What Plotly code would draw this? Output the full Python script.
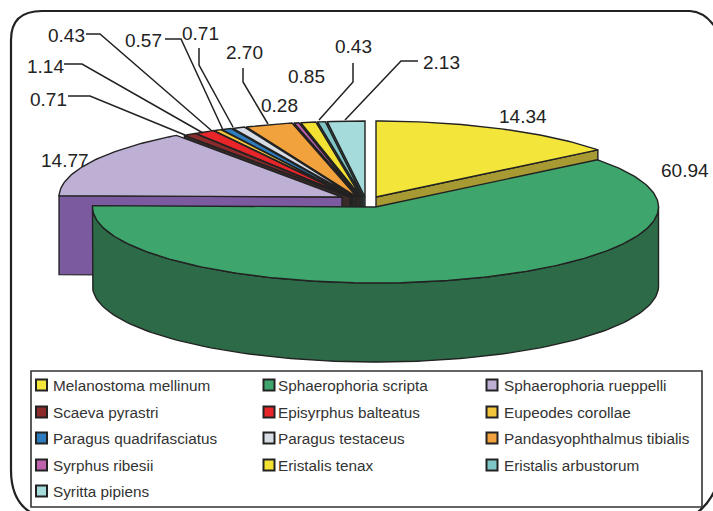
import numpy as np
import plotly.graph_objects as go

species = ["Melanostoma mellinum", "Sphaerophoria scripta", "Sphaerophoria rueppelli",
           "Scaeva pyrastri", "Episyrphus balteatus", "Eupeodes corollae",
           "Paragus quadrifasciatus", "Paragus testaceus", "Pandasyophthalmus tibialis",
           "Syrphus ribesii", "Eristalis tenax", "Eristalis arbustorum", "Syritta pipiens"]
values = [14.34, 60.94, 14.77, 0.71, 1.14, 0.43, 0.57, 0.71, 2.70, 0.28, 0.85, 0.43, 2.13]
top_colors = ["#F4E53A", "#3EA56C", "#BDB0D4", "#8C2B2B", "#E8262A", "#F2C53D", "#2C7CBE",
              "#D8DCE4", "#F2A23C", "#BE62AE", "#F3E234", "#7FC6C6", "#A6DBDB"]
face_colors = ["#A89A32", "#2D6A47", "#7B5AA0", "#3A2A2A", "#4A2626", "#4A3A22", "#2A3A4A",
               "#3A3A3A", "#3A2C20", "#4A3040", "#3A3620", "#2E4A4A", "#3F5F5F"]
centers_x = [376, 375.5, 342, 350, 351, 352, 353, 355, 357, 359, 361, 363, 365]
centers_y = [197, 207, 197, 197, 197, 197, 197, 197, 197, 197, 197, 197, 197]
label_x = [523, 685, 65, 48, 45, 66, 143, 200, 244, 279, 306, 353, 441]
label_y = [116, 170, 160, 99, 66, 35, 40, 33, 52, 105, 76, 46, 62]
label_index = [0, 1, 2, 3, 4, 5, 6, 7, 8, 9, 10, 11, 12]
leaders = [
    [(68, 96), (90, 96), (185, 135)],
    [(64, 64), (82, 64), (203, 133)],
    [(86, 34), (100, 34), (212, 131)],
    [(165, 39), (181, 39), (223, 130)],
    [(199, 48), (199, 65), (233, 127)],
    [(243, 68), (243, 82), (268, 124)],
    [(353, 63), (353, 82), (319, 120)],
    [(418, 61), (401, 61), (345, 120)],
]
legend_col_x = [41.5, 269, 492]
legend_text_x = [52, 277, 503]
legend_row_y = [385, 412, 438, 465, 491]

RX, RY, DEPTH = 283, 76, 79
OUT = "#222222"

cum = np.cumsum([0] + values) / sum(values) * 2 * np.pi
fig = go.Figure()


def poly(xs, ys, fill, name, lw=1.4):
    fig.add_trace(go.Scatter(x=list(xs), y=list(ys), mode="lines", fill="toself", fillcolor=fill,
                             line=dict(color=OUT, width=lw), name=name, hoverinfo="name",
                             showlegend=False))


def pt(cx, cy, a):
    return cx + RX * np.sin(a), cy - RY * np.cos(a)


def draw(i):
    a0, a1 = cum[i], cum[i + 1]
    cx, cy = centers_x[i], centers_y[i]
    n = max(4, int((a1 - a0) * 60))
    t = np.linspace(a0, a1, n)
    ax, ay = pt(cx, cy, t)
    lo, hi = max(a0, np.pi / 2), min(a1, 3 * np.pi / 2)
    if hi > lo:
        s = np.linspace(lo, hi, 120)
        sx, sy = pt(cx, cy, s)
        poly(np.r_[sx, sx[::-1], sx[0]], np.r_[sy, sy[::-1] + DEPTH, sy[0]], face_colors[i], species[i])
    # the cut face that looks towards the viewer
    if a1 <= np.pi / 2:
        ex, ey = pt(cx, cy, a1)
    elif a0 >= 3 * np.pi / 2:
        ex, ey = pt(cx, cy, a0)
    else:
        ex = None
    if ex is not None:
        poly([cx, ex, ex, cx, cx], [cy, ey, ey + DEPTH, cy + DEPTH, cy], face_colors[i], species[i])
    poly(np.r_[cx, ax, cx], np.r_[cy, ay, cy], top_colors[i], species[i])


for i in list(range(12, 1, -1)) + [0, 1]:
    draw(i)

# legend
lx, ly, lc, tx = [], [], [], []
for k in range(len(species)):
    lx.append(legend_col_x[k % 3])
    tx.append(legend_text_x[k % 3])
    ly.append(legend_row_y[k // 3])
    lc.append(top_colors[k])
fig.add_trace(go.Scatter(x=lx, y=ly, mode="markers", hovertext=species, hoverinfo="text",
                         marker=dict(symbol="square", size=11, color=lc, line=dict(color="#222222", width=2)),
                         showlegend=False))
for x_, y_, name in zip(tx, ly, species):
    fig.add_annotation(x=x_, y=y_, text=name, showarrow=False, xanchor="left", yanchor="middle",
                       xshift=-1, font=dict(family="Liberation Sans", size=15.3, color="#333333"))

for seg in leaders:
    fig.add_trace(go.Scatter(x=[p[0] for p in seg], y=[p[1] for p in seg], mode="lines",
                             line=dict(color="#222222", width=1.5), hoverinfo="skip", showlegend=False))

for xp, yp, idx in zip(label_x, label_y, label_index):
    fig.add_annotation(x=xp, y=yp, text=f"{values[idx]:.2f}", showarrow=False,
                       font=dict(family="Liberation Sans", size=19, color="#222222"),
                       xanchor="center", yanchor="middle")

frame = "M 30 512 Q 11 500 11 470 L 11 40 Q 11 11 42 11 L 690 11 Q 705 12 715 27"
fig.add_shape(type="path", path=frame, line=dict(color="#222222", width=2.2), layer="below")
fig.add_shape(type="path", path="M 714 492 Q 708 504 698 512", line=dict(color="#222222", width=2.4), layer="below")
fig.add_shape(type="rect", x0=31, y0=371, x1=702, y1=507, line=dict(color="#333333", width=1.6),
              fillcolor="white", layer="below")

fig.update_layout(width=713, height=511, margin=dict(l=0, r=0, t=0, b=0), paper_bgcolor="white",
                  plot_bgcolor="white", showlegend=False,
                  xaxis=dict(range=[0, 713], visible=False, fixedrange=True),
                  yaxis=dict(range=[511, 0], visible=False, fixedrange=True))
fig.write_html("out.html", config=dict(displayModeBar=False),
               post_script="document.body.style.margin='0';document.body.style.overflow='hidden';")
